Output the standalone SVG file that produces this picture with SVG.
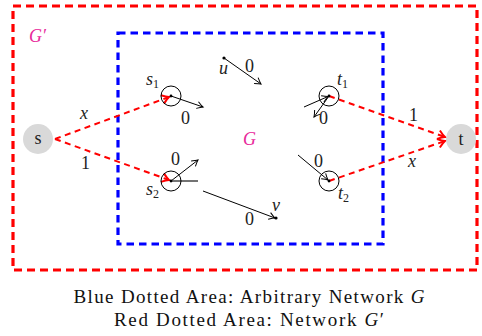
<svg xmlns="http://www.w3.org/2000/svg" width="482" height="336" viewBox="0 0 482 336">
<style>
.outer{fill:none;stroke:#ff0000;stroke-width:3.2;stroke-dasharray:8 5}
.inner{fill:none;stroke:#0000ff;stroke-width:3.2;stroke-dasharray:7.5 5}
.rdash{fill:none;stroke:#ff0000;stroke-width:2;stroke-dasharray:6 4.5}
.blk{fill:none;stroke:#000;stroke-width:1}
.circ{fill:none;stroke:#000;stroke-width:1}
.term{fill:#d9d9d9;stroke:none}
.lbl{font-family:"Liberation Serif",serif;font-size:18px;fill:#222}
.math{font-family:"Liberation Serif",serif;font-size:18px;font-style:italic;fill:#222}
.sub{font-size:12px;font-style:normal}
.mag{font-family:"Liberation Serif",serif;font-size:18px;font-style:italic;fill:#e8289a}
.cap{font-family:"Liberation Serif",serif;font-size:19px;fill:#111}
</style>
<defs>
<marker id="ab" markerUnits="userSpaceOnUse" markerWidth="12" markerHeight="12" refX="0" refY="0" viewBox="-8 -6 10 12" orient="auto">
<path d="M -6 -3.5 Q -2 -0.8 0 0 Q -2 0.8 -6 3.5" fill="none" stroke="#000" stroke-width="1"/>
</marker>
<marker id="ar" markerUnits="userSpaceOnUse" markerWidth="14" markerHeight="14" refX="0" refY="0" viewBox="-9 -7 11 14" orient="auto">
<path d="M -7 -4.5 Q -2.5 -1 0 0 Q -2.5 1 -7 4.5" fill="none" stroke="#ff0000" stroke-width="2"/>
</marker>
</defs>
<rect class="outer" x="13" y="6" width="464" height="264"/>
<rect class="inner" x="118" y="33" width="265" height="211"/>
<text class="mag" x="29" y="42">G′</text>
<text class="mag" x="243" y="145">G</text>
<g id="connectors">
<line class="rdash" x1="55" y1="139" x2="169" y2="97" marker-end="url(#ar)"/>
<line class="rdash" x1="55" y1="139" x2="169" y2="180" marker-end="url(#ar)"/>
<line class="rdash" x1="329" y1="96" x2="445" y2="137" marker-end="url(#ar)"/>
<line class="rdash" x1="329" y1="181" x2="445" y2="141" marker-end="url(#ar)"/>
<line class="blk" x1="171" y1="96" x2="203" y2="107" marker-end="url(#ab)"/>
<line class="blk" x1="171" y1="181" x2="198" y2="160" marker-end="url(#ab)"/>
<line x1="171" y1="181" x2="198" y2="181" stroke="#444" stroke-width="1.5"/>
<line class="blk" x1="224" y1="58" x2="261" y2="84" marker-end="url(#ab)"/>
<line class="blk" x1="203" y1="191" x2="275" y2="218" marker-end="url(#ab)"/>
<line class="blk" x1="304" y1="107" x2="328" y2="96.5" marker-end="url(#ab)"/>
<line class="blk" x1="329" y1="96" x2="314" y2="117" marker-end="url(#ab)"/>
<line class="blk" x1="298" y1="155" x2="328" y2="180" marker-end="url(#ab)"/>
<text class="math" x="80" y="119">x</text>
<text class="lbl" x="81" y="169">1</text>
<text class="lbl" x="181" y="124">0</text>
<text class="lbl" x="171" y="165">0</text>
<text class="lbl" x="245" y="72">0</text>
<text class="lbl" x="245" y="225">0</text>
<text class="lbl" x="319" y="124">0</text>
<text class="lbl" x="314" y="167">0</text>
<text class="lbl" x="409" y="121">1</text>
<text class="math" x="408" y="167">x</text>
</g>
<g id="s">
<circle class="term" cx="38" cy="139" r="15"/>
<text class="lbl" x="38" y="144" text-anchor="middle" font-size="17">s</text>
</g>
<g id="t">
<circle class="term" cx="461" cy="139" r="15"/>
<text class="lbl" x="461" y="145" text-anchor="middle" font-size="17">t</text>
</g>
<g id="s1">
<circle class="circ" cx="171" cy="96" r="10"/>
<circle cx="171" cy="96" r="1.4" fill="#000"/>
<text class="math" x="146" y="85">s<tspan class="sub" dy="3">1</tspan></text>
</g>
<g id="s2">
<circle class="circ" cx="171" cy="181" r="10"/>
<circle cx="171" cy="181" r="1.4" fill="#000"/>
<text class="math" x="146" y="195">s<tspan class="sub" dy="3">2</tspan></text>
</g>
<g id="t1">
<circle class="circ" cx="329" cy="96" r="10"/>
<circle cx="329" cy="96" r="1.4" fill="#000"/>
<text class="math" x="337" y="85">t<tspan class="sub" dy="3">1</tspan></text>
</g>
<g id="t2">
<circle class="circ" cx="329" cy="181" r="10"/>
<circle cx="329" cy="181" r="1.4" fill="#000"/>
<text class="math" x="338" y="199">t<tspan class="sub" dy="3">2</tspan></text>
</g>
<g id="u">
<circle cx="224" cy="58" r="1.6" fill="#000"/>
<text class="math" x="219" y="74">u</text>
</g>
<g id="v">
<circle cx="276" cy="218" r="1.6" fill="#000"/>
<text class="math" x="272" y="211">v</text>
</g>
<text class="cap" x="249" y="303" text-anchor="middle" textLength="351" lengthAdjust="spacing">Blue Dotted Area: Arbitrary Network <tspan font-style="italic">G</tspan></text>
<text class="cap" x="249" y="326" text-anchor="middle" textLength="270" lengthAdjust="spacing">Red Dotted Area: Network <tspan font-style="italic">G</tspan>′</text>
</svg>
